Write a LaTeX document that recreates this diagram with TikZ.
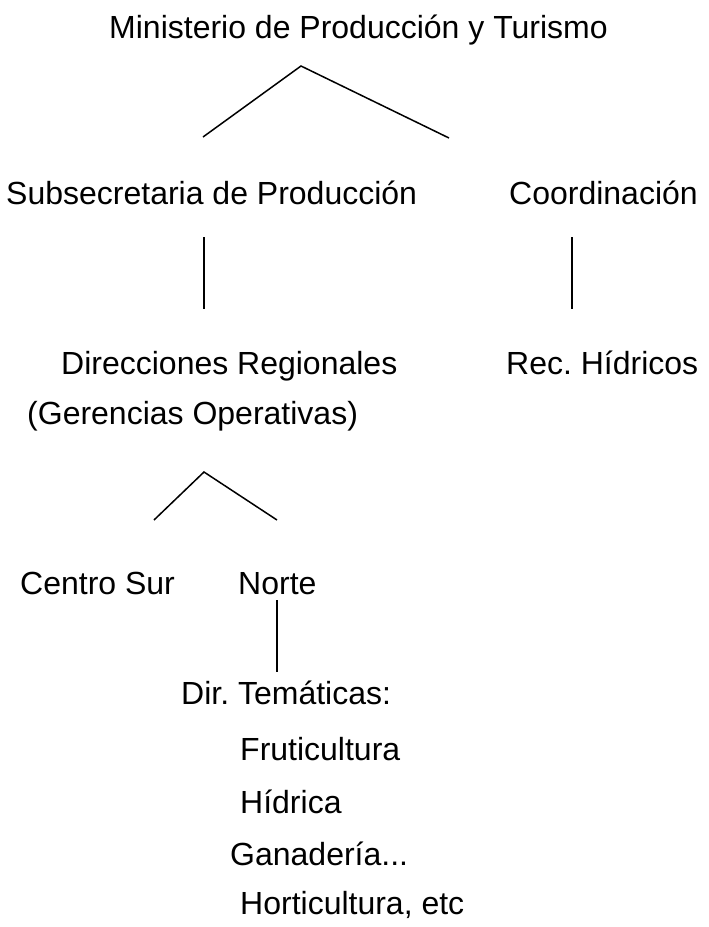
\documentclass[tikz,border=0pt]{standalone}
\usepackage{fontspec}
\setmainfont{Liberation Sans}
\usetikzlibrary{positioning,calc}
\frenchspacing

\begin{document}
\begin{tikzpicture}[
  x=1pt, y=-1pt,
  font=\fontsize{32}{38}\selectfont,
  lbl/.style={inner sep=0pt, anchor=base west},
  ln/.style={line width=1.5pt}
]
\useasboundingbox (0,0) rectangle (709,927);
% texts (placed by baseline)
\node[lbl] (min) at (109,38.5) {Ministerio de Producción y Turismo};
\node[lbl] (sub) at (6,204.5) {Subsecretaria de Producción};
\node[lbl] (coo) at (509,204.5) {Coordinación};
\node[lbl] (dir) at (61,374.5) {Direcciones Regionales};
\node[lbl] (rec) at (506,374.5) {Rec. Hídricos};
\node[lbl] (ger) at (27,424.5) {(Gerencias Operativas)};
\node[lbl] (cen) at (20,594.5) {Centro Sur};
\node[lbl] (nor) at (238,594.5) {Norte};
\node[lbl] (tem) at (181,704.5) {Dir. Temáticas:};
\node[lbl] (fru) at (240,760.5) {Fruticultura};
\node[lbl] (hid) at (240,813.5) {Hídrica};
\node[lbl] (gan) at (230,865.5) {Ganadería...};
\node[lbl] (hor) at (240,914.5) {Horticultura, etc};
% wedge and line end points
\coordinate (pk1) at (301,66);
\coordinate (l1) at (203,137);
\coordinate (r1) at (449,138);
\coordinate (pk2) at (204,472);
\coordinate (l2) at (154,520);
\coordinate (r2) at (277,520);
\coordinate (subb) at (204,237);
\coordinate (dirt) at (204,309);
\coordinate (coob) at (572,237);
\coordinate (rect) at (572,309);
\coordinate (norb) at (277,600);
\coordinate (temt) at (277,672);
\draw[ln] (l1) -- (pk1) -- (r1);
\draw[ln] (l2) -- (pk2) -- (r2);
\draw[ln] (subb) -- (dirt);
\draw[ln] (coob) -- (rect);
\draw[ln] (norb) -- (temt);
\end{tikzpicture}
\end{document}
